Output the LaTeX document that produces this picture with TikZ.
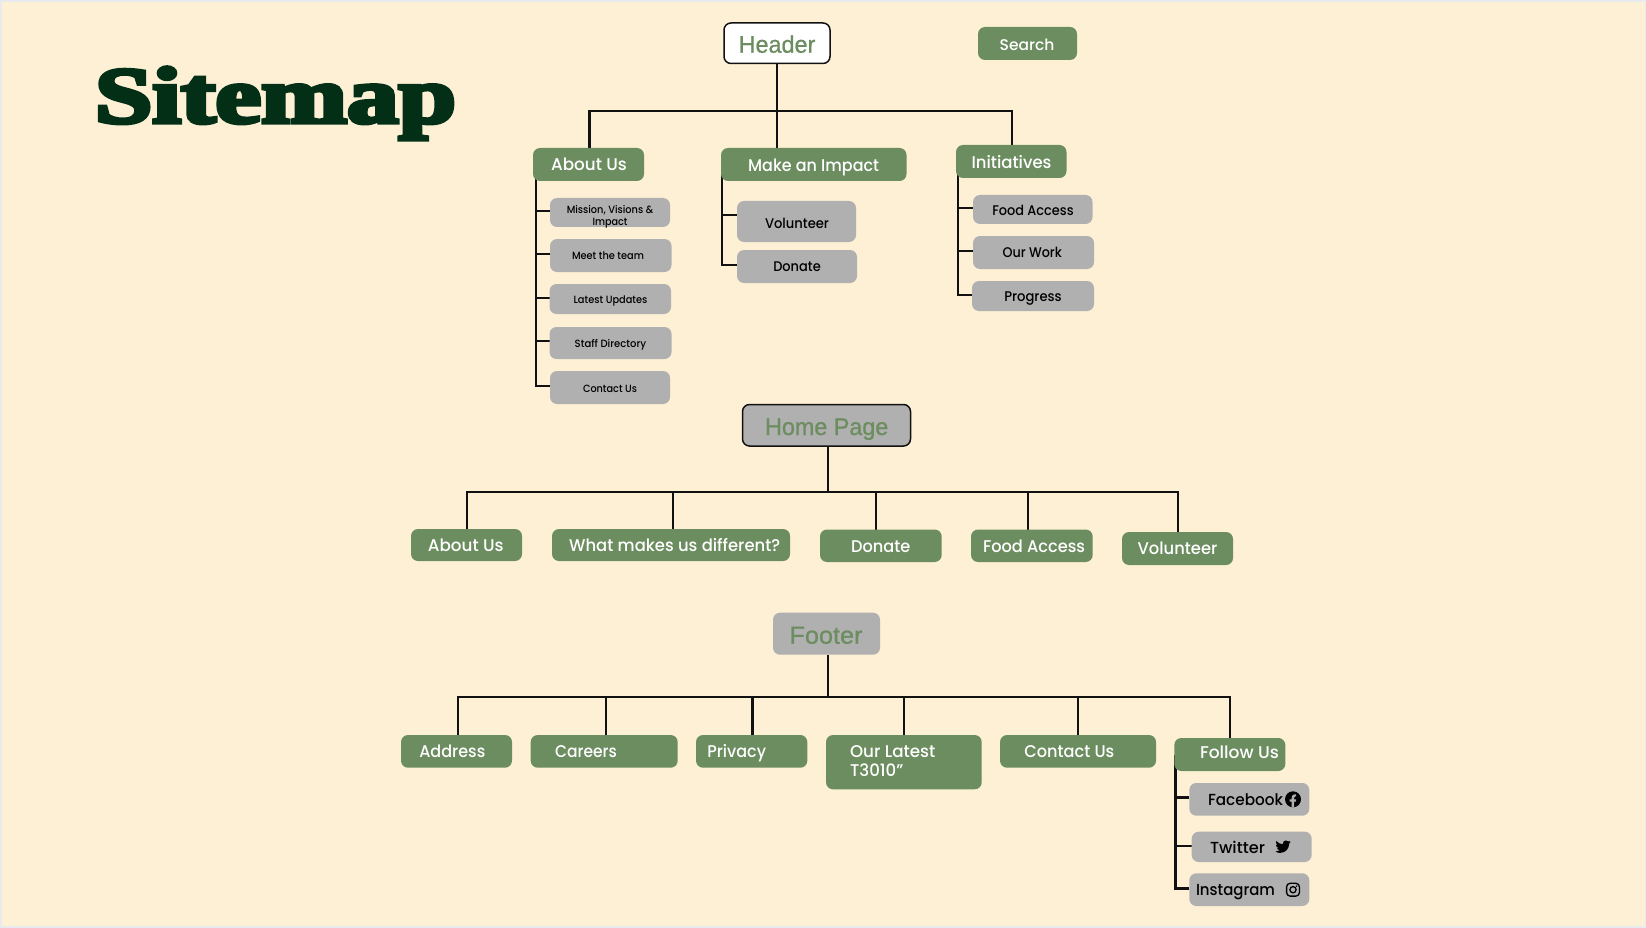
\documentclass[tikz,border=0pt]{standalone}
\usepackage{graphicx}
\usepackage{fontspec}
\newfontfamily\mont{Poppins Medium}
\newfontfamily\robo[FakeBold=0.8]{Liberation Sans}
\newfontfamily\ttlfont[FakeBold=5]{Liberation Serif Bold}
\definecolor{cream}{HTML}{FEF0D5}
\definecolor{edgegrey}{HTML}{E8EAED}
\definecolor{leaf}{HTML}{6C8D60}
\definecolor{stone}{HTML}{B0B0B0}
\definecolor{forest}{HTML}{032F16}
\definecolor{ink}{HTML}{111111}
\pgfdeclarelayer{bg}
\pgfsetlayers{bg,main}
\tikzset{
  x=1pt,y=-1pt,
  roundbox/.style={rectangle,rounded corners=7pt,inner sep=0pt,outer sep=0pt},
  greenbox/.style={roundbox,fill=leaf,text=white},
  greybox/.style={roundbox,fill=stone,text=black},
  headwhite/.style={roundbox,fill=white,draw=ink,line width=1.5pt,text=leaf},
  headgrey/.style={roundbox,fill=stone,draw=ink,line width=1.5pt,text=leaf},
  footgrey/.style={roundbox,fill=stone,text=leaf},
  titlebox/.style={rectangle,inner sep=0pt,outer sep=0pt,text=forest},
  conn/.style={draw=ink,line width=2.4pt,line cap=butt,line join=miter},
}
% box from its corners; label centred on tcx, baseline at given y, fitted to a width
\newcommand\boxnode[7]{%
  \pgfmathsetmacro\bcx{(#3+#5)/2}\pgfmathsetmacro\bcy{(#4+#6)/2}%
  \pgfmathsetmacro\bw{#5-#3}\pgfmathsetmacro\bh{#6-#4}%
  \node[#2,minimum width=\bw pt,minimum height=\bh pt] (#1) at (\bcx,\bcy) {#7};}
\newcommand\lbl[6][\mont]{%
  \pgfmathsetmacro\ldx{#2-\bcx}\pgfmathsetmacro\ldy{\bcy-#3-0.8}%
  \raisebox{\ldy pt}[0pt][0pt]{\hbox to 0pt{\hskip\ldx pt\hbox to 0pt{\hss\resizebox{#4pt}{\height}{\fontsize{#5pt}{#5pt}\selectfont#1\relax #6}\hss}\hss}}}
\begin{document}
\begin{tikzpicture}
\useasboundingbox (0,0) rectangle (1646,928);
% title
\boxnode{title}{titlebox}{95}{65}{456}{139}{\lbl[\ttlfont]{275.5}{121.9}{361}{80}{Sitemap}}
% header tree
\boxnode{header}{headwhite}{724}{23}{830}{63.5}{\lbl[\robo]{777}{51.9}{76.7}{24}{Header}}
\boxnode{search}{greenbox}{978}{27}{1077}{60}{\lbl{1027}{49.3}{54.7}{15.5}{Search}}
\boxnode{hAbout}{greenbox}{533}{148}{644}{181}{\lbl{589}{170}{75.7}{17}{About Us}}
\boxnode{hImpact}{greenbox}{721}{148}{906.5}{181}{\lbl{813.6}{170.7}{131}{17}{Make an Impact}}
\boxnode{hInit}{greenbox}{956}{145}{1066.5}{178}{\lbl{1011.5}{167.5}{80}{17}{Initiatives}}
\boxnode{aMission}{greybox}{550}{198}{670}{227}{\lbl{610}{212.7}{86.5}{10.5}{Mission, Visions \&}\lbl{610}{225}{35}{10.5}{Impact}}
\boxnode{aMeet}{greybox}{550}{239}{671.5}{272}{\lbl{608}{258.7}{72}{10.5}{Meet the team}}
\boxnode{aLatest}{greybox}{549.5}{284}{671}{314}{\lbl{610.5}{303}{73.8}{10.5}{Latest Updates}}
\boxnode{aStaff}{greybox}{549.5}{327}{671.5}{359}{\lbl{610.5}{346.7}{71.6}{10.5}{Staff Directory}}
\boxnode{aContact}{greybox}{550}{371}{670}{404}{\lbl{610}{391.3}{54}{10.5}{Contact Us}}
\boxnode{iVol}{greybox}{737}{201}{856}{242}{\lbl{797}{227.3}{64}{14}{Volunteer}}
\boxnode{iDon}{greybox}{737}{250}{857}{283}{\lbl{797}{271}{47.5}{14}{Donate}}
\boxnode{nFood}{greybox}{973}{195}{1092.5}{224}{\lbl{1033}{215}{81.5}{14}{Food Access}}
\boxnode{nWork}{greybox}{973}{236}{1094}{269}{\lbl{1032.2}{256.7}{59.3}{14}{Our Work}}
\boxnode{nProg}{greybox}{972}{281}{1094}{311}{\lbl{1033}{300.7}{57.4}{14}{Progress}}
% home tree
\boxnode{home}{headgrey}{742.5}{404.5}{910.5}{446}{\lbl[\robo]{826.7}{434.2}{123.3}{24}{Home Page}}
\boxnode{pAbout}{greenbox}{411}{529}{522}{561}{\lbl{465.8}{551}{75.7}{17}{About Us}}
\boxnode{pWhat}{greenbox}{552}{529}{790}{561}{\lbl{674.7}{551}{211}{17}{What makes us different?}}
\boxnode{pDonate}{greenbox}{820}{529.5}{941.7}{562}{\lbl{880.7}{552}{59.3}{17}{Donate}}
\boxnode{pFood}{greenbox}{971}{529.5}{1092.7}{562}{\lbl{1034}{552}{102}{17}{Food Access}}
\boxnode{pVol}{greenbox}{1122}{532}{1233}{565}{\lbl{1177.5}{554}{79.7}{17}{Volunteer}}
% footer tree
\boxnode{footer}{footgrey}{773}{612.7}{880}{654.7}{\lbl[\robo]{826}{642.9}{73}{24.5}{Footer}}
\boxnode{fAddr}{greenbox}{401}{735}{512}{767.7}{\lbl{452.3}{756.7}{66}{17}{Address}}
\boxnode{fCare}{greenbox}{530.7}{735}{677.7}{767.7}{\lbl{586}{756.7}{62}{17}{Careers}}
\boxnode{fPriv}{greenbox}{696}{735}{807.3}{767.7}{\lbl{736.7}{756.7}{58.7}{17}{Privacy}}
\boxnode{fLatest}{greenbox}{826}{735}{981.7}{789.3}{\lbl{892.7}{756.7}{85.3}{17}{Our Latest}\lbl{876.7}{775.7}{53.3}{17}{T3010”}}
\boxnode{fCont}{greenbox}{1000}{735}{1156}{767.7}{\lbl{1069.3}{756.7}{90}{17}{Contact Us}}
\boxnode{fFollow}{greenbox}{1174.3}{738}{1285.3}{771}{\lbl{1239.5}{758}{79}{17}{Follow Us}}
\boxnode{sFb}{greybox}{1189.3}{783}{1309.3}{815.7}{\lbl{1245.5}{804.3}{75}{16}{Facebook}}
\boxnode{sTw}{greybox}{1191.7}{831.7}{1311.7}{862}{\lbl{1237.5}{852.3}{55}{16}{Twitter}}
\boxnode{sIg}{greybox}{1189.3}{873.3}{1309.3}{906}{\lbl{1235.5}{895}{79}{16}{Instagram}}
% icons
\begin{scope}[shift={(1293,799.3)}]
  \fill[black] (0,0) circle (8);
  \fill[stone] (-1.3,8) -- (-1.3,2.4) -- (-3.3,2.4) -- (-3.3,0) -- (-1.3,0) -- (-1.3,-1.8)
    .. controls (-1.3,-3.9) and (0,-5) .. (1.9,-5) -- (3.2,-4.9) -- (3.2,-2.9) -- (2.2,-2.9)
    .. controls (1.4,-2.9) and (1.2,-2.4) .. (1.2,-1.8) -- (1.2,0) -- (3.2,0) -- (2.8,2.4) -- (1.2,2.4) -- (1.2,8) -- cycle;
\end{scope}
\begin{scope}[shift={(1275.3,839)},scale=0.03]
  \fill[black] (459.37,151.716) -- (459.695,165.361)
    .. controls (459.695,304.081) and (354.112,463.919) .. (161.137,463.919)
    .. controls (101.685,463.919) and (46.457,446.7) .. (0,416.813)
    .. controls (8.447,417.787) and (16.568,418.112) .. (25.34,418.112)
    .. controls (74.395,418.112) and (119.553,401.544) .. (155.614,373.28)
    .. controls (109.482,372.305) and (70.822,342.092) .. (57.502,300.508)
    .. controls (64,301.482) and (70.497,302.132) .. (77.32,302.132)
    .. controls (86.741,302.132) and (96.163,300.832) .. (104.934,298.559)
    .. controls (56.853,288.812) and (20.791,246.579) .. (20.791,195.574)
    -- (20.791,194.275)
    .. controls (34.76,202.072) and (51.005,206.945) .. (68.222,207.594)
    .. controls (39.958,188.751) and (21.441,156.589) .. (21.441,120.203)
    .. controls (21.441,100.711) and (26.638,82.843) .. (35.735,67.249)
    .. controls (87.39,130.924) and (165.035,172.507) .. (252.1,177.056)
    .. controls (250.476,169.259) and (249.501,161.138) .. (249.501,153.016)
    .. controls (249.501,95.188) and (296.283,48.082) .. (354.435,48.082)
    .. controls (384.648,48.082) and (411.937,60.752) .. (431.105,81.219)
    .. controls (454.82,76.671) and (477.561,67.899) .. (497.704,55.879)
    .. controls (489.906,80.245) and (473.338,100.712) .. (451.572,113.706)
    .. controls (472.689,111.433) and (493.156,105.584) .. (511.998,97.463)
    .. controls (497.706,118.254) and (479.837,136.771) .. (459.37,151.716) -- cycle;
\end{scope}
\begin{scope}[shift={(1293,889.7)}]
  \draw[black,line width=1.3pt,rounded corners=3.5pt] (-6.4,-6.4) rectangle (6.4,6.4);
  \draw[black,line width=1.3pt] (0,0) circle (3.1);
  \fill[black] (3.6,-3.6) circle (0.85);
\end{scope}
% junction and bend points
\coordinate (hBus) at (777,111);
\coordinate (hL) at (589.5,111);
\coordinate (hR) at (1012,111);
\coordinate (aS) at (535.7,386);
\coordinate (a1) at (535.7,211);
\coordinate (a2) at (535.7,254);
\coordinate (a3) at (535.7,298);
\coordinate (a4) at (535.7,341);
\coordinate (iS) at (722,265);
\coordinate (i1) at (722,215);
\coordinate (nS) at (958,295);
\coordinate (n1) at (958,208);
\coordinate (n2) at (958,251);
\coordinate (pBus) at (827.7,492);
\coordinate (pL) at (467,492);
\coordinate (pW) at (672.7,492);
\coordinate (pD) at (876,492);
\coordinate (pF) at (1027.7,492);
\coordinate (pR) at (1178,492);
\coordinate (fBus) at (827.7,697);
\coordinate (fL) at (457.7,697);
\coordinate (fC) at (606,697);
\coordinate (fP) at (752.3,697);
\coordinate (fO) at (904,697);
\coordinate (fN) at (1077.7,697);
\coordinate (fR) at (1230,697);
\coordinate (sS) at (1175.3,888.3);
\coordinate (s1) at (1175.3,797.3);
\coordinate (s2) at (1175.3,845.7);
\begin{pgfonlayer}{bg}
  \fill[edgegrey] (0,0) rectangle (1646,928);
  \fill[cream] (1.5,2) rectangle (1644.5,926);
  % header
  \draw[conn] (header.south) -- (header.south |- hBus) -- (hBus |- hImpact.north);
  \draw[conn] (hAbout.north -| hL) -- (hL) -- (hR) -- (hR |- hInit.north);
  \draw[conn] (aS |- hAbout.center) -- (aS) -- (aS -| aContact.west);
  \draw[conn] (a1) -- (a1 -| aMission.west);
  \draw[conn] (a2) -- (a2 -| aMeet.west);
  \draw[conn] (a3) -- (a3 -| aLatest.west);
  \draw[conn] (a4) -- (a4 -| aStaff.west);
  \draw[conn] (iS |- hImpact.center) -- (iS) -- (iS -| iDon.west);
  \draw[conn] (i1) -- (i1 -| iVol.west);
  \draw[conn] (nS |- hInit.center) -- (nS) -- (nS -| nProg.west);
  \draw[conn] (n1) -- (n1 -| nFood.west);
  \draw[conn] (n2) -- (n2 -| nWork.west);
  % home
  \draw[conn] (home.south -| pBus) -- (pBus);
  \draw[conn] (pAbout.north -| pL) -- (pL) -- (pR) -- (pR |- pVol.north);
  \draw[conn] (pW) -- (pW |- pWhat.north);
  \draw[conn] (pD) -- (pD |- pDonate.north);
  \draw[conn] (pF) -- (pF |- pFood.north);
  % footer
  \draw[conn] (footer.south -| fBus) -- (fBus);
  \draw[conn] (fAddr.north -| fL) -- (fL) -- (fR) -- (fR |- fFollow.north);
  \draw[conn] (fC) -- (fC |- fCare.north);
  \draw[conn] (fP) -- (fP |- fPriv.north);
  \draw[conn] (fO) -- (fO |- fLatest.north);
  \draw[conn] (fN) -- (fN |- fCont.north);
  \draw[conn] (sS |- fFollow.center) -- (sS) -- (sS -| sIg.west);
  \draw[conn] (s1) -- (s1 -| sFb.west);
  \draw[conn] (s2) -- (s2 -| sTw.west);
\end{pgfonlayer}
\end{tikzpicture}
\end{document}
